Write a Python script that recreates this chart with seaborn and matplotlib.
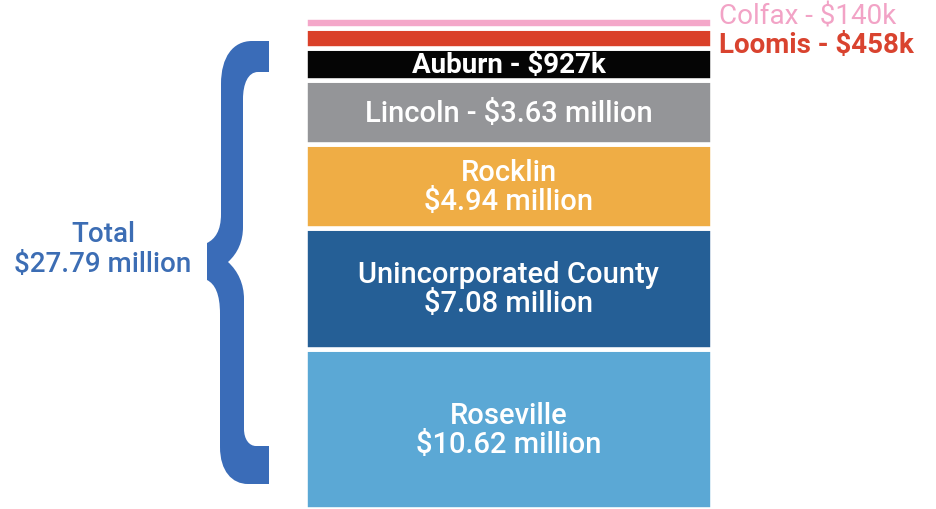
import matplotlib
matplotlib.use("Agg")
import matplotlib.pyplot as plt
import seaborn as sns
from matplotlib.path import Path
from matplotlib.patches import PathPatch

# ---- data ----
places = ["Roseville", "Unincorporated County", "Rocklin", "Lincoln", "Auburn", "Loomis", "Colfax"]
amounts_musd = [10.62, 7.08, 4.94, 3.63, 0.927, 0.458, 0.140]
value_labels = ["$10.62 million", "$7.08 million", "$4.94 million", "$3.63 million",
                "$927k", "$458k", "$140k"]
total_label = "$27.79 million"
# stylised (infographic) segment sizes as drawn in the picture
segment_size = [160, 121, 84.5, 63.5, 32.5, 20, 10.5]
colors = ["#5ba8d5", "#255f96", "#efad45", "#949598", "#050505", "#da4029", "#f4a7c9"]

sns.set_theme(style="white")
plt.rcParams["font.family"] = ["Roboto", "DejaVu Sans"]

W, H = 936, 510
fig = plt.figure(figsize=(W / 100, H / 100), dpi=100)
fig.patch.set_facecolor("white")

# bar axes
bx = fig.add_axes([305 / W, 0, 407 / W, 1])
bottom = 0.0
centers = []
for name, size, col in zip(places, segment_size, colors):
    sns.barplot(x=["Placer"], y=[size], bottom=bottom, color=col, width=1.0,
                edgecolor="white", linewidth=3.3, saturation=1, ax=bx)
    centers.append(bottom + size / 2)
    bottom += size
bx.set_xlim(-0.5, 0.5)
bx.set_ylim(0, H)
bx.axis("off")

# overlay axes in pixel units
ov = fig.add_axes([0, 0, 1, 1], facecolor="none")
ov.set_xlim(0, W)
ov.set_ylim(H, 0)
ov.axis("off")

cx = 508.5
tkw = dict(color="white", ha="center", va="center", fontsize=21, fontweight="medium")
ys = [H - c for c in centers]
# Roseville, Unincorporated, Rocklin: two lines
for i in range(3):
    ov.text(cx, ys[i] - 14, places[i], **tkw)
    ov.text(cx, ys[i] + 15, value_labels[i], **tkw)
ov.text(cx, ys[3] + 1, f"{places[3]} - {value_labels[3]}", **tkw)
ov.text(cx, ys[4] + 1, f"{places[4]} - {value_labels[4]}", color="white", ha="center",
        va="center", fontsize=20, fontweight="bold")

# outside labels
ov.text(719, 17, f"{places[6]} - {value_labels[6]}", color="#f2a3c6", ha="left",
        va="center", fontsize=20)
ov.text(719, 46, f"{places[5]} - {value_labels[5]}", color="#d9432f", ha="left",
        va="center", fontsize=20, fontweight="bold")

# total
ov.text(103, 235, "Total", color="#3c6db4", ha="center", va="center", fontsize=20,
        fontweight="medium")
ov.text(103, 265, total_label, color="#3c6db4", ha="center", va="center", fontsize=20,
        fontweight="medium")

# brace
verts = [
    (269, 42), (252, 42),
    (233, 42), (221, 58), (221, 85),
    (221, 215),
    (221, 232), (215, 240), (207, 244),
    (207, 281),
    (215, 285), (220, 295), (220, 315),
    (220, 448),
    (220, 472), (232, 485), (248, 485),
    (269, 485), (269, 447), (256, 447),
    (249, 447), (244, 440), (244, 430),
    (244, 300),
    (244, 285), (238, 272), (228, 263),
    (238, 254), (243, 242), (243, 228),
    (243, 100),
    (243, 85), (248, 73), (258, 73),
    (269, 73), (269, 42),
]
codes = [Path.MOVETO, Path.LINETO,
         Path.CURVE4, Path.CURVE4, Path.CURVE4,
         Path.LINETO,
         Path.CURVE4, Path.CURVE4, Path.CURVE4,
         Path.LINETO,
         Path.CURVE4, Path.CURVE4, Path.CURVE4,
         Path.LINETO,
         Path.CURVE4, Path.CURVE4, Path.CURVE4,
         Path.LINETO, Path.LINETO, Path.LINETO,
         Path.CURVE4, Path.CURVE4, Path.CURVE4,
         Path.LINETO,
         Path.CURVE4, Path.CURVE4, Path.CURVE4,
         Path.CURVE4, Path.CURVE4, Path.CURVE4,
         Path.LINETO,
         Path.CURVE4, Path.CURVE4, Path.CURVE4,
         Path.LINETO, Path.CLOSEPOLY]
ov.add_patch(PathPatch(Path(verts, codes), facecolor="#3a6cb8", edgecolor="none"))

fig.savefig("out.png", dpi=100, facecolor="white")
